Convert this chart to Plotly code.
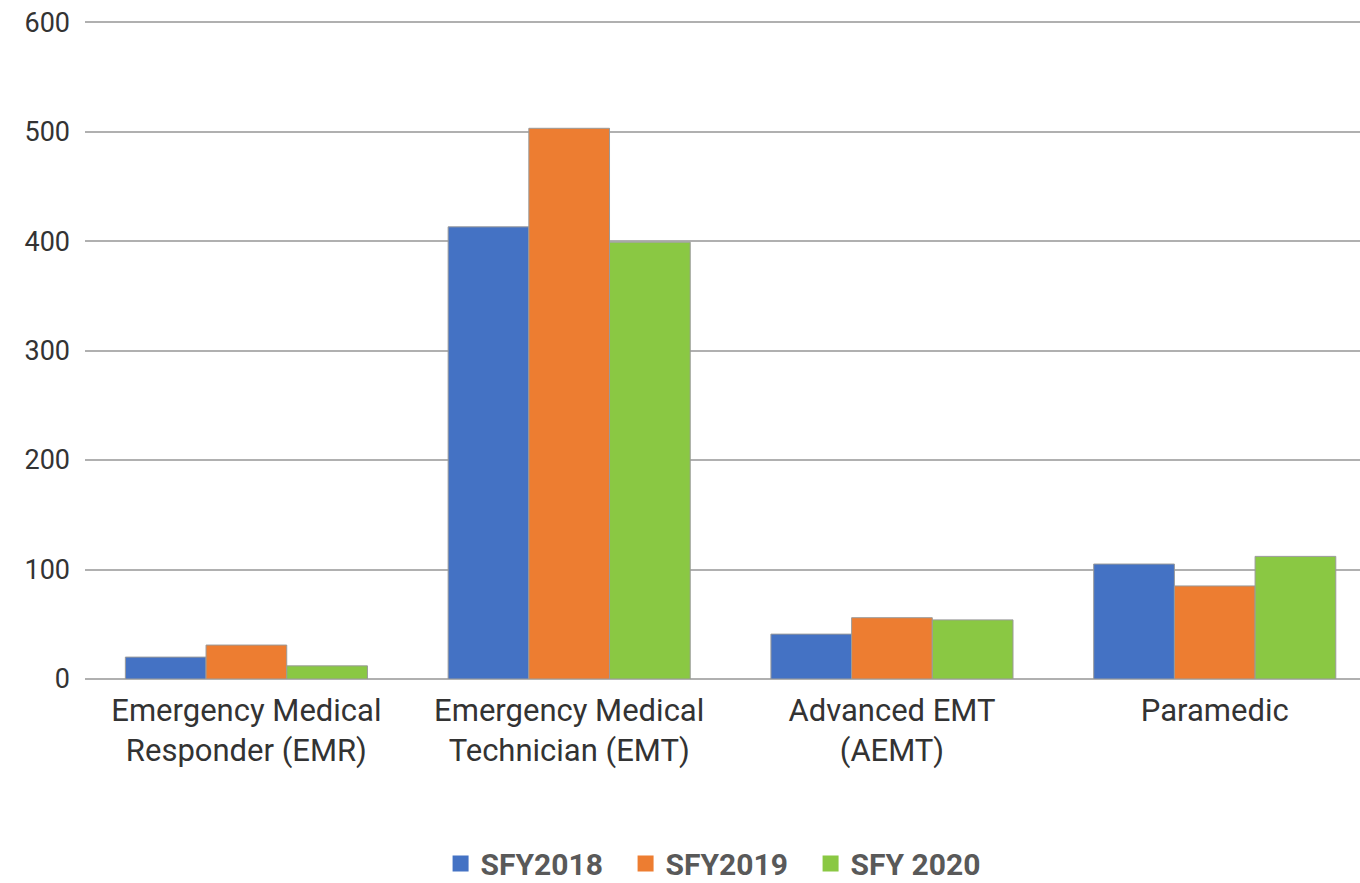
import plotly.graph_objects as go

categories = [
    "Emergency Medical<br>Responder (EMR)",
    "Emergency Medical<br>Technician (EMT)",
    "Advanced EMT<br>(AEMT)",
    "Paramedic",
]
sfy2018 = [20, 413, 41, 105]
sfy2019 = [31, 503, 56, 85]
sfy2020 = [12, 399, 54, 112]

series = [
    ("SFY2018", sfy2018, "#4472C4"),
    ("SFY2019", sfy2019, "#ED7D31"),
    ("SFY 2020", sfy2020, "#8AC843"),
]

fig = go.Figure()
for name, vals, color in series:
    fig.add_trace(go.Bar(
        x=categories, y=vals, name=name, showlegend=False,
        marker=dict(color=color, line=dict(color="#9a9a9a", width=1)),
    ))
# legend keys drawn as larger squares
for name, vals, color in series:
    fig.add_trace(go.Scatter(
        x=[None], y=[None], name=name, mode="markers",
        marker=dict(symbol="square", size=17, color=color),
    ))

fig.update_layout(
    width=1360, height=883,
    barmode="group", bargap=0.25, bargroupgap=0,
    plot_bgcolor="white", paper_bgcolor="white",
    margin=dict(l=85, r=0, t=21, b=204),
    font=dict(family="Roboto", size=27, color="#333333"),
    xaxis=dict(
        range=[-0.5, 3.45], showgrid=False, showline=False, ticks="",
        tickfont=dict(size=31, color="#333333"), ticklabelstandoff=10,
    ),
    yaxis=dict(
        range=[0, 601], dtick=100, showgrid=True, gridcolor="#b0b0b0",
        gridwidth=2, zeroline=True, zerolinecolor="#b0b0b0", zerolinewidth=2,
        showline=False, ticks="", ticklabelstandoff=14,
        tickfont=dict(size=27, color="#333333"),
    ),
    legend=dict(
        orientation="h", xref="container", x=0.528, xanchor="center",
        yref="container", y=0.022, yanchor="middle",
        font=dict(size=30, color="#595959", family="Roboto", weight="bold"),
        itemwidth=30, tracegroupgap=0, entrywidthmode="pixels", entrywidth=140,
    ),
)

fig.write_html("out.html")
